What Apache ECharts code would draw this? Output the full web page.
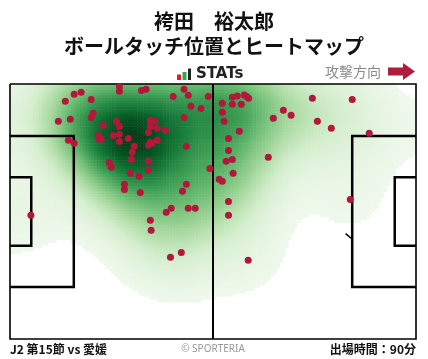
<!DOCTYPE html>
<html><head><meta charset="utf-8">
<script src="https://cdn.jsdelivr.net/npm/echarts@6/dist/echarts.min.js"></script>
<style>html,body{margin:0;padding:0;background:#fff}#c{width:428px;height:359px}</style>
</head><body><div id="c"></div>
<script>
// Ball touch positions in metres (x: 0-105 along pitch, y: 0-68 from top touchline)
const touchX = [
  28.3,28.3,34.0,35.2,45.0,46.1,42.2,51.3,18.4,16.6,
  14.3,21.0,46.8,49.4,21.5,21.0,45.0,15.6,12.5,27.5,
  36.3,37.5,24.1,28.3,36.3,38.1,40.2,35.8,22.8,26.7,
  28.3,30.6,23.1,23.6,28.3,38.1,36.3,36.8,35.8,32.1,
  45.6,15.1,16.6,31.6,31.4,35.8,25.7,26.2,51.7,31.1,
  35.8,33.4,29.6,29.6,45.6,44.6,33.7,41.7,46.1,47.9,
  5.4,40.4,36.3,36.5,44.3,41.5,
  57.5,58.8,60.6,61.2,61.7,54.9,57.5,59.8,78.2,88.5,
  54.9,70.7,72.7,68.1,55.4,79.5,83.1,59.3,92.9,56.5,
  56.5,55.9,57.5,66.8,57.7,54.1,54.9,56.5,88.0,56.5,
  61.6
];
const touchY = [
  0.7,1.9,1.7,1.4,1.4,3.0,3.3,3.3,2.2,2.7,
  4.6,4.1,5.9,6.5,7.8,8.9,8.9,9.4,9.9,9.9,
  9.7,9.9,11.0,11.3,11.3,11.8,12.3,12.9,13.7,13.7,
  13.4,14.5,14.7,14.7,15.3,15.0,15.5,15.8,16.3,16.6,
  16.6,15.0,15.8,18.2,20.1,20.6,20.9,22.2,22.5,23.8,
  23.0,24.6,26.7,28.1,26.7,28.6,28.9,33.1,33.1,33.1,
  35.0,34.2,36.3,39.0,44.9,46.2,
  3.5,3.2,2.9,3.3,3.8,5.1,5.4,5.4,3.8,4.1,
  7.5,7.0,8.3,9.1,9.9,9.9,11.8,12.6,13.1,14.5,
  17.7,20.6,20.1,19.5,23.8,25.4,25.9,31.3,30.8,35.0,
  47.0
];
// Pitch geometry (metres)
const pitchLength = 105, pitchWidth = 68;
const penaltyDepth = 16.5, penaltyTop = 13.85, penaltyBottom = 54.15;
const goalDepth = 5.5, goalTop = 24.84, goalBottom = 43.16;
const arcStub = [[86.8, 39.9], [88.3, 41.2]];

const titleLine1 = '袴田　裕太郎';
const titleLine2 = 'ボールタッチ位置とヒートマップ';
const footerLeft = 'J2 第15節 vs 愛媛';
const footerCenter = '© SPORTERIA';
const footerRight = '出場時間：90分';

// heatmap: kernel density of the touches, reflected at the goal lines
const nx = 140, ny = 90, bw = 8.5, thrAbs = 0.8;
const L = pitchLength, W = pitchWidth;
const kx = [], ky = [];
touchX.forEach((x, k) => {
  [x, -x, 2 * L - x].forEach(xx => { kx.push(xx); ky.push(touchY[k]); });
});
const grid = [];
let maxD = 0;
for (let j = 0; j < ny; j++) {
  for (let i = 0; i < nx; i++) {
    const cx = (i + 0.5) * L / nx, cy = (j + 0.5) * W / ny;
    let d = 0;
    for (let k = 0; k < kx.length; k++) {
      const dx = cx - kx[k], dy = cy - ky[k];
      const q = dx * dx + dy * dy;
      if (q < 1600) d += Math.exp(-q / (2 * bw * bw));
    }
    grid.push([i, j, d]);
    if (d > maxD) maxD = d;
  }
}
const heatData = grid.filter(g => g[2] >= thrAbs);
const xCats = Array.from({length: nx}, (_, i) => i);
const yCats = Array.from({length: ny}, (_, i) => i);

const pts = touchX.map((x, i) => [x, touchY[i]]);

const pitchLines = [
  {coords: [[0,0],[L,0],[L,W],[0,W],[0,0]], lineStyle: {width: 1.6}},
  {coords: [[L/2,0],[L/2,W]], lineStyle: {width: 2}},
  {coords: [[0,penaltyTop],[penaltyDepth,penaltyTop],[penaltyDepth,penaltyBottom],[0,penaltyBottom]], lineStyle: {width: 2.5}},
  {coords: [[0,goalTop],[goalDepth,goalTop],[goalDepth,goalBottom],[0,goalBottom]], lineStyle: {width: 2.5}},
  {coords: [[L,penaltyTop],[L-penaltyDepth,penaltyTop],[L-penaltyDepth,penaltyBottom],[L,penaltyBottom]], lineStyle: {width: 2.5}},
  {coords: [[L,goalTop],[L-goalDepth,goalTop],[L-goalDepth,goalBottom],[L,goalBottom]], lineStyle: {width: 2.5}},
  {coords: arcStub, lineStyle: {width: 1.5}}
];

const chart = echarts.init(document.getElementById('c'), null, {renderer: 'canvas'});
const gridPos = {left: 10, top: 84, width: 406, height: 255};
chart.setOption({
  animation: false,
  grid: [Object.assign({}, gridPos), Object.assign({}, gridPos)],
  xAxis: [
    {type: 'category', gridIndex: 0, data: xCats, show: false},
    {type: 'value', gridIndex: 1, min: 0, max: L, show: false}
  ],
  yAxis: [
    {type: 'category', gridIndex: 0, data: yCats, inverse: true, show: false},
    {type: 'value', gridIndex: 1, min: 0, max: W, inverse: true, show: false}
  ],
  visualMap: {
    show: false, seriesIndex: 0, dimension: 2, min: thrAbs, max: maxD,
    inRange: {color: ['#eff8ec','#d4eecd','#a9d9a0','#77c27b','#46a459','#1f8440','#076128','#023e18']}
  },
  series: [
    {type: 'heatmap', xAxisIndex: 0, yAxisIndex: 0, data: heatData, progressive: 0, z: 1,
     emphasis: {disabled: true}},
    {type: 'lines', coordinateSystem: 'cartesian2d', xAxisIndex: 1, yAxisIndex: 1, polyline: true,
     clip: false, z: 3, silent: true, lineStyle: {color: '#000', opacity: 1}, data: pitchLines},
    {type: 'scatter', xAxisIndex: 1, yAxisIndex: 1, data: pts, symbolSize: 7, clip: false, z: 4,
     itemStyle: {color: '#b3183c', opacity: 1}}
  ],
  graphic: [
    {type: 'text', x: 214, y: 21, style: {text: titleLine1, font: 'bold 20px "Noto Sans CJK JP"', fill: '#111', align: 'center', verticalAlign: 'middle'}},
    {type: 'text', x: 214, y: 46, style: {text: titleLine2, font: 'bold 20px "Noto Sans CJK JP"', fill: '#111', align: 'center', verticalAlign: 'middle'}},
    {type: 'rect', shape: {x: 177, y: 74.5, width: 4, height: 5.5}, style: {fill: '#d3202f'}},
    {type: 'rect', shape: {x: 182.5, y: 72, width: 4, height: 8}, style: {fill: '#2aa84a'}},
    {type: 'rect', shape: {x: 188, y: 68.5, width: 3, height: 11.5}, style: {fill: '#222'}},
    {type: 'text', x: 196, y: 74.5, style: {text: 'STATs', font: 'bold 15px "DejaVu Sans"', fill: '#222', align: 'left', verticalAlign: 'middle'}},
    {type: 'text', x: 325, y: 72, style: {text: '攻撃方向', font: '14px "Noto Sans CJK JP"', fill: '#8a8a8a', align: 'left', verticalAlign: 'middle'}},
    {type: 'polygon', shape: {points: [[388,67.5],[403,67.5],[403,63],[415,71.5],[403,80],[403,75.5],[388,75.5]]}, style: {fill: '#b01c3c'}},
    {type: 'text', x: 10, y: 349, style: {text: footerLeft, font: 'bold 12px "Noto Sans CJK JP"', fill: '#111', align: 'left', verticalAlign: 'middle'}},
    {type: 'text', x: 213, y: 349, style: {text: footerCenter, font: '10px "Noto Sans"', fill: '#999', align: 'center', verticalAlign: 'middle'}},
    {type: 'text', x: 416, y: 349, style: {text: footerRight, font: 'bold 12px "Noto Sans CJK JP"', fill: '#111', align: 'right', verticalAlign: 'middle'}}
  ]
});
</script>
</body></html>
